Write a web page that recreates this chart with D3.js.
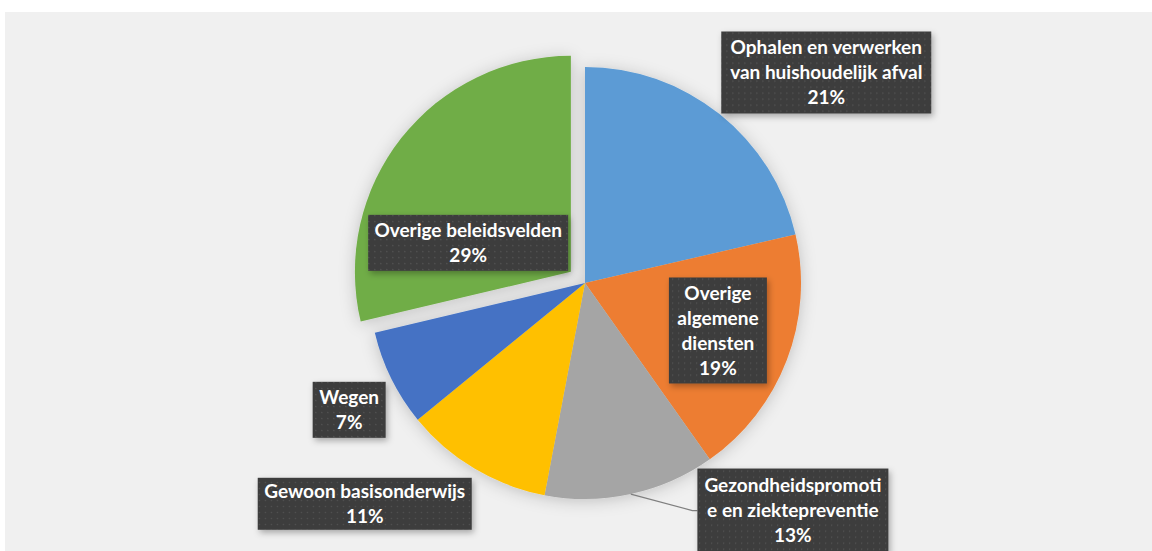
<!DOCTYPE html>
<html>
<head>
<meta charset="utf-8">
<script src="https://cdn.jsdelivr.net/npm/d3@7"></script>
<style>
  html, body { margin: 0; padding: 0; background: #ffffff; }
  svg { display: block; }
</style>
</head>
<body>
<div id="chart"></div>
<script>
// data
const categories = [
    "Ophalen en verwerken van huishoudelijk afval",
    "Overige algemene diensten",
    "Gezondheidspromotie en ziektepreventie",
    "Gewoon basisonderwijs",
    "Wegen",
    "Overige beleidsvelden"
];
const values = [21.4, 18.8, 12.8, 11.1, 7.2, 28.7];
const colors = ["#5B9BD5", "#ED7D31", "#A5A5A5", "#FFC000", "#4472C4", "#70AD47"];
// how Excel wrapped the label text
const labelLines = [
    ["Ophalen en verwerken", "van huishoudelijk afval"],
    ["Overige", "algemene", "diensten"],
    ["Gezondheidspromoti", "e en ziektepreventie"],
    ["Gewoon basisonderwijs"],
    ["Wegen"],
    ["Overige beleidsvelden"]
];
const exploded = [false, false, false, false, false, true];

// layout
const width = 1152, height = 551;
const cx = 585, cy = 283, radius = 216, explodeBy = 18;
const lineH = 25;
// label box: offset of box centre from slice centroid, and box size
const labelLayout = [
    { dx: 174, dy: -126, w: 210, h: 82 },
    { dx: 32, dy: 9, w: 98, h: 106 },
    { dx: 185, dy: 122, w: 191, h: 84 },
    { dx: -165, dy: 128, w: 214, h: 52 },
    { dx: -139, dy: 79, w: 73, h: 56 },
    { dx: -18, dy: 38, w: 200, h: 56 }
];

const svg = d3.select("#chart").append("svg")
    .attr("width", width)
    .attr("height", height);

const defs = svg.append("defs");

const shadow = defs.append("filter")
    .attr("id", "pieShadow")
    .attr("x", "-20%").attr("y", "-20%")
    .attr("width", "140%").attr("height", "140%");
shadow.append("feDropShadow")
    .attr("dx", 0).attr("dy", 2)
    .attr("stdDeviation", 8)
    .attr("flood-color", "#000")
    .attr("flood-opacity", 0.2);

const boxShadow = defs.append("filter")
    .attr("id", "boxShadow")
    .attr("x", "-20%").attr("y", "-30%")
    .attr("width", "140%").attr("height", "160%");
boxShadow.append("feDropShadow")
    .attr("dx", 2).attr("dy", 3)
    .attr("stdDeviation", 3)
    .attr("flood-color", "#000")
    .attr("flood-opacity", 0.3);

const dots = defs.append("pattern")
    .attr("id", "dots")
    .attr("width", 6).attr("height", 6)
    .attr("patternUnits", "userSpaceOnUse");
dots.append("rect").attr("width", 6).attr("height", 6).attr("fill", "#3c3c3c");
dots.append("rect").attr("x", 2).attr("y", 2).attr("width", 1.3).attr("height", 1.3).attr("fill", "#575757");

// chart area
svg.append("rect")
    .attr("x", 5).attr("y", 12)
    .attr("width", width - 5).attr("height", height - 12)
    .attr("fill", "#f0f0f0");

const pie = d3.pie().sort(null).value(d => d);
const arcs = pie(values);
const arc = d3.arc().innerRadius(0).outerRadius(radius);

function offset(d, i) {
    if (!exploded[i]) return [0, 0];
    const mid = (d.startAngle + d.endAngle) / 2;
    return [Math.sin(mid) * explodeBy, -Math.cos(mid) * explodeBy];
}

const g = svg.append("g")
    .attr("transform", "translate(" + cx + "," + cy + ")");

g.append("g")
    .attr("filter", "url(#pieShadow)")
    .selectAll("path")
    .data(arcs)
    .enter().append("path")
    .attr("d", arc)
    .attr("fill", (d, i) => colors[i])
    .attr("transform", (d, i) => "translate(" + offset(d, i) + ")");

// label positions
const labels = arcs.map(function (d, i) {
    const c = arc.centroid(d);
    const o = offset(d, i);
    const L = labelLayout[i];
    return {
        x: c[0] + o[0] + L.dx, y: c[1] + o[1] + L.dy, w: L.w, h: L.h,
        lines: labelLines[i].concat([Math.round(values[i]) + "%"]),
        d: d, i: i
    };
});

// leader line for the grey slice
const gz = labels[2];
const gzMid = (gz.d.startAngle + gz.d.endAngle) / 2;
const la = [Math.sin(gzMid) * radius, -Math.cos(gzMid) * radius];
const boxLeft = gz.x - gz.w / 2;
g.append("polyline")
    .attr("points", [la, [boxLeft - 5, gz.y], [boxLeft, gz.y]].map(p => p.join(",")).join(" "))
    .attr("fill", "none")
    .attr("stroke", "#7f7f7f")
    .attr("stroke-width", 1.2);

const lab = g.selectAll(".label")
    .data(labels)
    .enter().append("g")
    .attr("class", "label")
    .attr("transform", d => "translate(" + d.x + "," + d.y + ")");

lab.append("rect")
    .attr("x", d => -d.w / 2)
    .attr("y", d => -d.h / 2)
    .attr("width", d => d.w)
    .attr("height", d => d.h)
    .attr("fill", "url(#dots)")
    .attr("filter", "url(#boxShadow)");

lab.each(function (d) {
    const n = d.lines.length;
    d3.select(this).selectAll("text")
        .data(d.lines)
        .enter().append("text")
        .attr("x", 0)
        .attr("y", (t, k) => (k - (n - 1) / 2) * lineH)
        .attr("dy", "0.35em")
        .attr("text-anchor", "middle")
        .style("font-family", "Lato, 'Open Sans', sans-serif")
        .style("font-weight", "bold")
        .style("font-size", "19px")
        .attr("fill", "#ffffff")
        .text(t => t);
});
</script>
</body>
</html>
